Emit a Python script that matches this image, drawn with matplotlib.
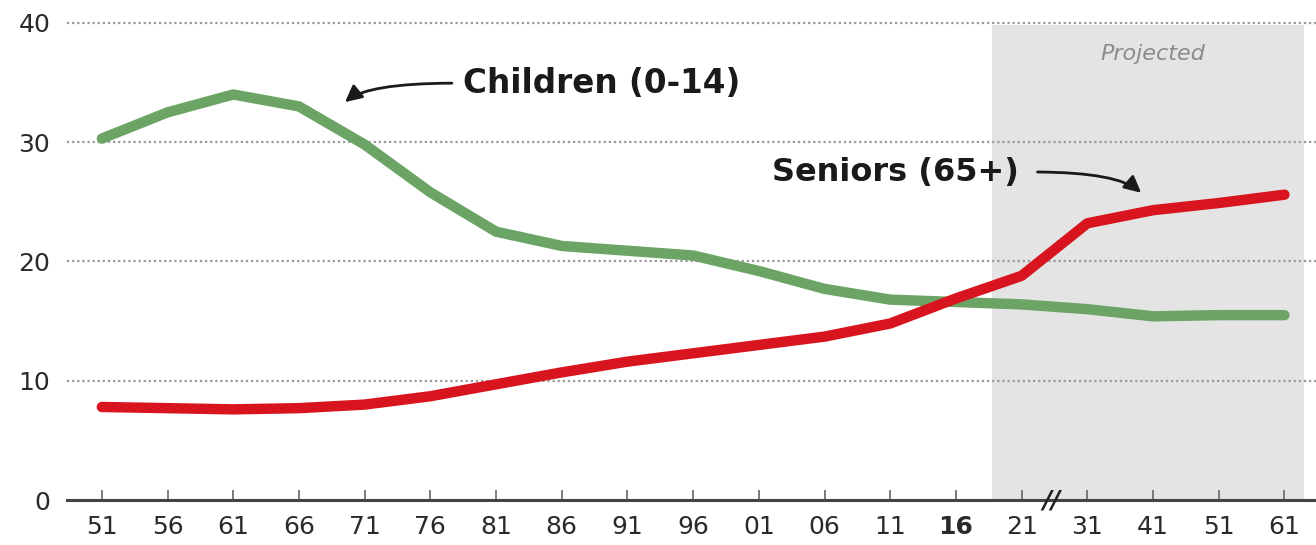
import numpy as np
import matplotlib.pyplot as plt

years = ['51', '56', '61', '66', '71', '76', '81', '86', '91', '96',
         '01', '06', '11', '16', '21', '31', '41', '51', '61']
children = [30.3, 32.5, 34.0, 33.0, 29.8, 25.8, 22.5, 21.3, 20.9, 20.5,
            19.2, 17.7, 16.8, 16.6, 16.4, 16.0, 15.4, 15.5, 15.5]
seniors = [7.8, 7.7, 7.6, 7.7, 8.0, 8.7, 9.7, 10.7, 11.6, 12.3,
           13.0, 13.7, 14.8, 16.9, 18.8, 23.2, 24.3, 24.9, 25.6]
yticks = [0, 10, 20, 30, 40]

plt.rcParams['font.family'] = ['DejaVu Sans']

fig = plt.figure(figsize=(13.16, 5.45), dpi=100)
ax = fig.add_axes([67 / 1316, 45 / 545, 1 - 67 / 1316, 489 / 545])
xs = np.arange(len(years))

# projected zone
ax.fill_between([13.55, 18.3], 0, 39.8, color='#e4e4e4', zorder=0, lw=0)
ax.text(16.0, 37.4, 'Projected', style='italic', color='#8c8c8c',
        fontsize=16, ha='center', va='center')

for v in yticks[1:]:
    ax.axhline(v, color='#9a9a9a', lw=1.6, ls=(0, (1, 1.3)), zorder=1)

ax.plot(xs, children, color='#6ca465', lw=7.5, solid_capstyle='round',
        solid_joinstyle='round', zorder=3)
ax.plot(xs, seniors, color='#d8141e', lw=7.5, solid_capstyle='round',
        solid_joinstyle='round', zorder=4)

ax.text(5.49, 34.95, 'Children (0-14)', fontsize=23.5, fontweight='bold',
        color='#1a1a1a', va='center', ha='left')
ax.annotate('', xy=(3.67, 33.2), xytext=(5.37, 34.95),
            arrowprops=dict(arrowstyle='-|>,head_length=1.0,head_width=0.5',
                            color='#1a1a1a', lw=2,
                            connectionstyle='angle3,angleA=0,angleB=45'))
ax.text(10.2, 27.5, 'Seniors (65+)', fontsize=23, fontweight='bold',
        color='#1a1a1a', va='center', ha='left')
ax.annotate('', xy=(15.85, 25.6), xytext=(14.2, 27.5),
            arrowprops=dict(arrowstyle='-|>,head_length=1.0,head_width=0.5',
                            color='#1a1a1a', lw=2,
                            connectionstyle='angle3,angleA=0,angleB=-45'))

ax.set_xlim(-0.53, 18.48)
ax.set_ylim(0, 41)
ax.set_xticks(xs)
ax.set_xticklabels(years)
ax.set_yticks(yticks)
ax.tick_params(axis='x', direction='in', length=7, width=1.2, colors='#666666',
               labelsize=18, labelcolor='#2a2a2a', pad=11)
ax.tick_params(axis='y', length=0, labelsize=18, labelcolor='#2a2a2a', pad=12)
ax.get_xticklabels()[13].set_fontweight('bold')
for s in ['top', 'right', 'left']:
    ax.spines[s].set_visible(False)
ax.spines['bottom'].set_color('#444444')
ax.spines['bottom'].set_linewidth(2.2)
ax.patch.set_alpha(0)

# axis break mark
ax.text(14.45, 0, '//', fontsize=18, fontweight='bold', color='#222222',
        ha='center', va='center', style='italic')

fig.savefig('out.png', dpi=100)
